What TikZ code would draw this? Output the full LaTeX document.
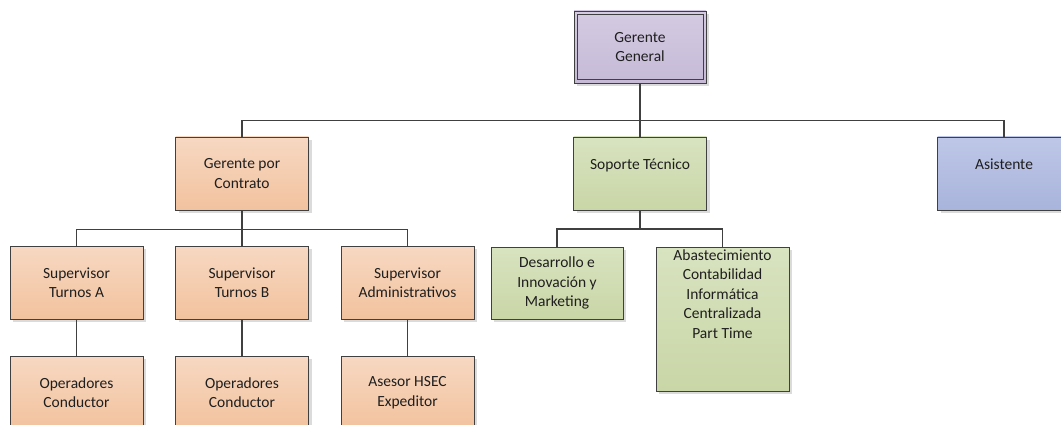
\documentclass[tikz,border=0pt]{standalone}
\usepackage{fontspec}
\setmainfont{Carlito}
\begin{document}
\begin{tikzpicture}[x=1pt,y=-1pt,
  box/.style={draw=black!75, line width=0.8pt, minimum width=133pt, minimum height=73pt,
    inner sep=0pt, align=center, text=black!88, font=\fontsize{15.5}{19.5}\selectfont,
    preaction={fill=black!14, transform canvas={xshift=3pt,yshift=-3pt}}},
  orange/.style={box, top color=orgT, bottom color=orgB},
  purple/.style={box, top color=purT, bottom color=purB},
  green/.style={box, top color=grnT, bottom color=grnB},
  blue/.style={box, top color=bluT, bottom color=bluB},
  txt/.style={align=center, inner sep=0pt, text=black!88, font=\fontsize{15.5}{19.5}\selectfont},
  conn/.style={draw=black!75, line width=1.7pt}
]
\definecolor{orgT}{HTML}{F7D8C2}
\definecolor{orgB}{HTML}{F2C29E}
\definecolor{purT}{HTML}{D4CBE2}
\definecolor{purB}{HTML}{C6BAD7}
\definecolor{grnT}{HTML}{D8E3C0}
\definecolor{grnB}{HTML}{C9D6A6}
\definecolor{bluT}{HTML}{BEC7E7}
\definecolor{bluB}{HTML}{A9B4DC}
\useasboundingbox (0,0) rectangle (1061,425);
\clip (0,0) rectangle (1061,425);

% top
\node[purple, minimum width=132pt, minimum height=72pt] (gg) at (640,47) {Gerente\\General};
\draw[draw=black!75, line width=0.8pt] ([shift={(3.5pt,-3.5pt)}]gg.north west) rectangle ([shift={(-3.5pt,3.5pt)}]gg.south east);

% level 2
\node[orange] (gpc) at (242,173.5) {Gerente por\\Contrato};
\node[green] (sop) at (640,173.5) {Soporte Técnico\\\mbox{}};
\node[blue] (asi) at (1004,173.5) {Asistente\\\mbox{}};

% level 3
\node[orange] (supA) at (76.5,282.5) {Supervisor\\Turnos A};
\node[orange] (supB) at (242,282.5) {Supervisor\\Turnos B};
\node[orange] (supC) at (407.5,282.5) {Supervisor\\Administrativos};
\node[green, minimum width=132pt, minimum height=72pt] (des) at (557,283) {Desarrollo e\\Innovación y\\Marketing};
\node[green, minimum height=144pt] (aba) at (722.5,319) {};
\node[txt, anchor=north] (abaT) at ([yshift=-2.5pt]aba.north) {Abastecimiento\\Contabilidad\\Informática\\Centralizada\\Part Time};

% level 4
\node[orange] (opA) at (76.5,392.5) {Operadores\\Conductor};
\node[orange] (opB) at (242,392.5) {Operadores\\Conductor};
\node[orange] (ase) at (407.5,392.5) {Asesor HSEC\\Expeditor};

% connectors
\draw[conn] (gg.south) -- ++(0,37) -| (gpc.north);
\draw[conn] (gg.south) -- ++(0,37) -| (sop.north);
\draw[conn] (gg.south) -- ++(0,37) -| (asi.north);
\draw[conn] (gpc.south) -- ++(0,19) -| (supA.north);
\draw[conn] (gpc.south) -- ++(0,19) -| (supB.north);
\draw[conn] (gpc.south) -- ++(0,19) -| (supC.north);
\draw[conn] (sop.south) -- ++(0,18.5) -| (des.north);
\draw[conn] (sop.south) -- ++(0,18.5) -| (aba.north);
\draw[conn] (supA.south) -- (opA.north);
\draw[conn] (supB.south) -- (opB.north);
\draw[conn] (supC.south) -- (ase.north);
\end{tikzpicture}
\end{document}
